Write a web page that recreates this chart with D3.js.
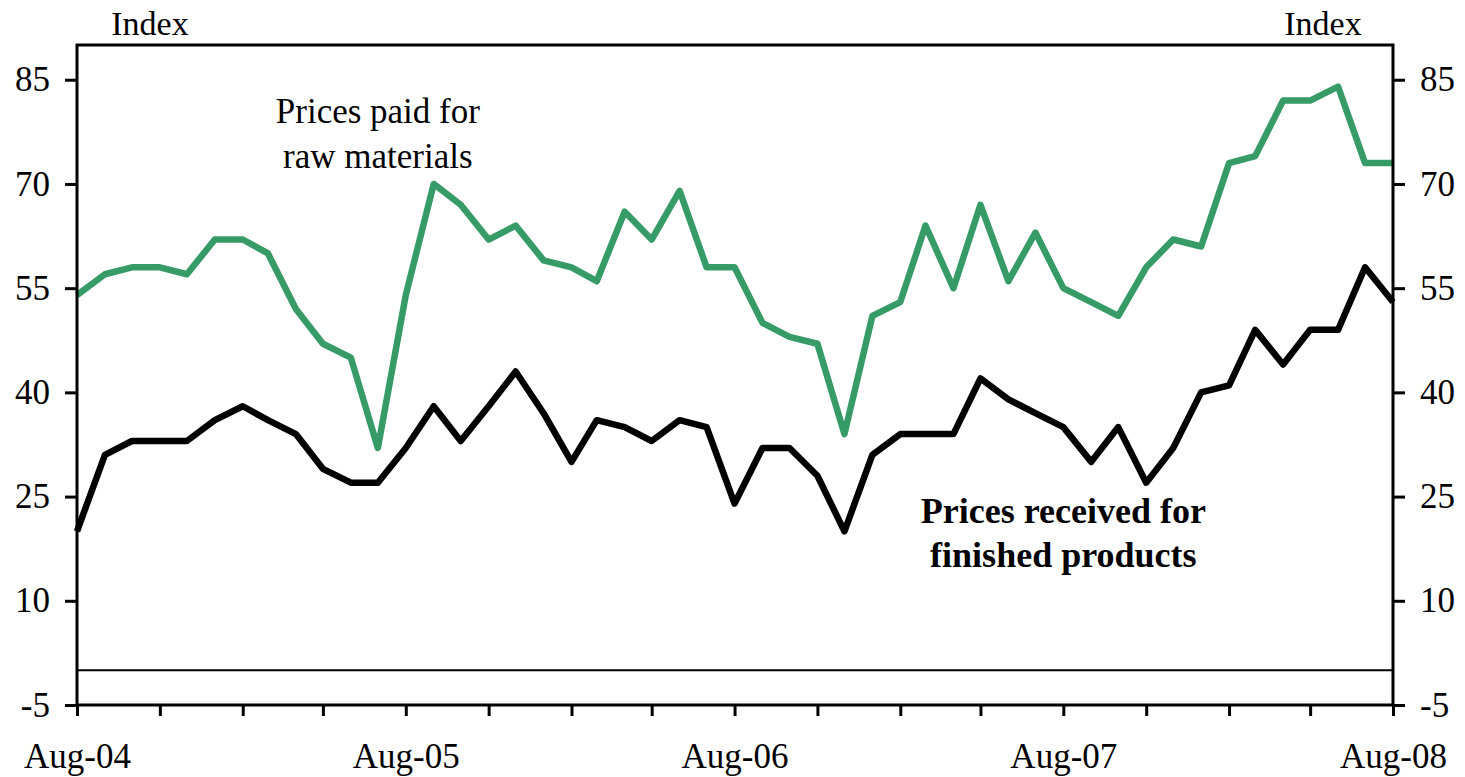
<!DOCTYPE html>
<html>
<head>
<meta charset="utf-8">
<script src="https://cdn.jsdelivr.net/npm/d3@7"></script>
<style>
  body { margin: 0; background: #fff; }
  svg text { font-family: 'Liberation Serif', 'Times New Roman', serif; fill: #000; }
</style>
</head>
<body>
<svg id="chart" width="1465" height="777"></svg>
<script>
// monthly, Aug-04 .. Aug-08
const startMonth = new Date(2004, 7, 1)
const rawMaterials = [
  54, 57, 58, 58, 57, 62, 62, 60, 52, 47, 45, 32,
  54, 70, 67, 62, 64, 59, 58, 56, 66, 62, 69, 58,
  58, 50, 48, 47, 34, 51, 53, 64, 55, 67, 56, 63,
  55, 53, 51, 58, 62, 61, 73, 74, 82, 82, 84, 73,
  73,
]
const finishedProducts = [
  20, 31, 33, 33, 33, 36, 38, 36, 34, 29, 27, 27,
  32, 38, 33, 38, 43, 37, 30, 36, 35, 33, 36, 35,
  24, 32, 32, 28, 20, 31, 34, 34, 34, 42, 39, 37,
  35, 30, 35, 27, 32, 40, 41, 49, 44, 49, 49, 58,
  53,
]
const yTicks = [-5, 10, 25, 40, 55, 70, 85]
const xLabels = ['Aug-04', 'Aug-05', 'Aug-06', 'Aug-07', 'Aug-08']

const marginLeft = 77
const marginRight = 72
const marginTop = 45
const marginBottom = 72
const serif = "'Liberation Serif', 'Times New Roman', serif"

const svg = d3.select('#chart')
const width = +svg.attr('width') - marginLeft - marginRight
const height = +svg.attr('height') - marginTop - marginBottom

const dates = rawMaterials.map((_, i) => d3.timeMonth.offset(startMonth, i))

const x = d3.scaleTime().domain(d3.extent(dates)).range([0, width])
const y = d3.scaleLinear().domain([-5, 90]).range([height, 0])

const g = svg.append('g').attr('transform', `translate(${marginLeft} ${marginTop})`)

// zero line
g.append('line')
  .attr('x1', 0).attr('x2', width)
  .attr('y1', y(0)).attr('y2', y(0))
  .attr('stroke', '#000').attr('stroke-width', 2)

const line = (values) => d3.line()
  .x((d, i) => x(dates[i]))
  .y((d) => y(d))(values)

g.append('path')
  .attr('d', line(rawMaterials))
  .attr('fill', 'none')
  .attr('stroke', '#369b67')
  .attr('stroke-width', 6.5)
  .attr('stroke-linejoin', 'round')

g.append('path')
  .attr('d', line(finishedProducts))
  .attr('fill', 'none')
  .attr('stroke', '#000')
  .attr('stroke-width', 6.5)
  .attr('stroke-linejoin', 'round')

// frame + axes
const styleAxis = (sel) => {
  sel.attr('font-family', serif)
  sel.select('.domain').remove()
  sel.selectAll('.tick line').attr('stroke', '#000').attr('stroke-width', 3)
  sel.selectAll('.tick text').style('font-size', '35px').attr('fill', '#000')
}

g.append('rect')
  .attr('width', width).attr('height', height)
  .attr('fill', 'none').attr('stroke', '#000').attr('stroke-width', 3)

g.append('g')
  .call(d3.axisLeft(y).tickValues(yTicks).tickSize(12).tickPadding(15).tickFormat((d) => String(d)))
  .call(styleAxis)

g.append('g')
  .attr('transform', `translate(${width} 0)`)
  .call(d3.axisRight(y).tickValues(yTicks).tickSize(12).tickPadding(15).tickFormat((d) => String(d)))
  .call(styleAxis)

const quarterTicks = d3.range(0, dates.length, 3).map((i) => dates[i])
g.append('g')
  .attr('transform', `translate(0 ${height})`)
  .call(d3.axisBottom(x).tickValues(quarterTicks).tickSize(11).tickPadding(27)
    .tickFormat((d, i) => (i % 4 === 0 ? xLabels[i / 4] : '')))
  .call(styleAxis)

// unit labels
g.append('text').attr('x', 73).attr('y', -10).attr('text-anchor', 'middle')
  .style('font-size', '34px').text('Index')
g.append('text').attr('x', width - 70).attr('y', -10).attr('text-anchor', 'middle')
  .style('font-size', '34px').text('Index')

// series labels
const paid = g.append('text').attr('text-anchor', 'middle').style('font-size', '35px')
paid.append('tspan').attr('x', x(dates[11])).attr('y', 78).text('Prices paid for')
paid.append('tspan').attr('x', x(dates[11])).attr('y', 123).text('raw materials')

const received = g.append('text').attr('text-anchor', 'middle')
  .style('font-size', '36px').style('font-weight', 'bold')
received.append('tspan').attr('x', x(dates[36])).attr('y', 478).text('Prices received for')
received.append('tspan').attr('x', x(dates[36])).attr('y', 522).text('finished products')
</script>
</body>
</html>
